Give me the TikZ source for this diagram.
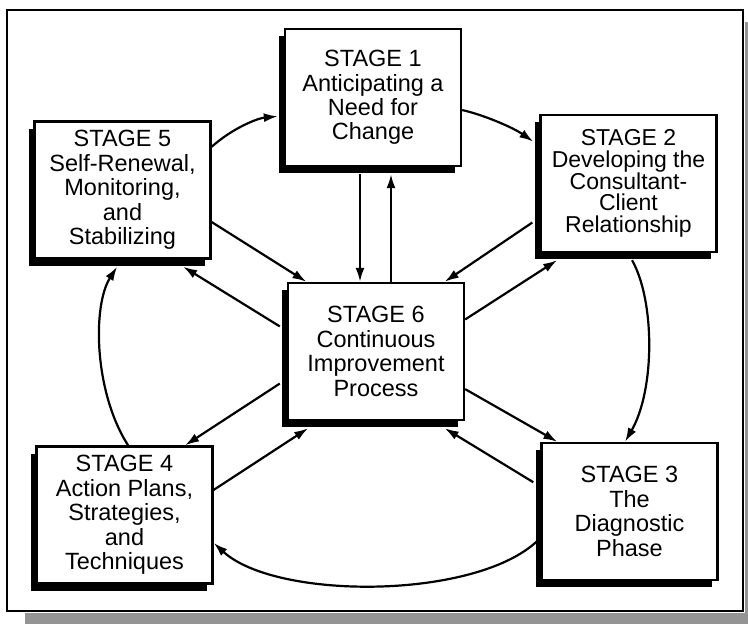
\documentclass[tikz,border=0pt]{standalone}
\usepackage{fontspec}
\setmainfont{Liberation Sans}
\usetikzlibrary{arrows.meta,calc,shadows}
\newcommand\stagefont{\fontsize{23.5}{24.4}\selectfont}
\newcommand\stagefonttight{\fontsize{23}{21.8}\selectfont}
\tikzset{
  stagebox/.style={draw, line width=2.4pt, fill=white,
    minimum width=176pt, minimum height=137pt, inner sep=0pt,
    align=center, font=\stagefont,
    drop shadow={shadow xshift=-6pt, shadow yshift=-7pt, opacity=1, fill=black}},
  arr/.style={line width=2.2pt, -{Latex[length=14pt,width=9pt]}},
  frameline/.style={line width=1.6pt},
  backshade/.style={fill=black!42}
}
\begin{document}
\begin{tikzpicture}[x=1pt,y=-1pt]
\useasboundingbox (0,0) rectangle (748,624);
% page frame with its grey shade
\fill[backshade] (25,613) rectangle (748,624);
\fill[backshade] (745,22) rectangle (748,613);
\draw[frameline] (7,10) rectangle (743,611);

% the six stages
\node[stagebox] (s1) at (373,97.5) {STAGE 1\\Anticipating a\\Need for\\Change};
\node[stagebox, font=\stagefonttight] (s2) at (628.5,183.5) {STAGE 2\\Developing the\\Consultant-\\Client\\Relationship};
\node[stagebox] (s3) at (629.5,511.5) {STAGE 3\\The\\Diagnostic\\Phase};
\node[stagebox] (s4) at (124.5,515) {STAGE 4\\Action Plans,\\Strategies,\\and\\Techniques};
\node[stagebox] (s5) at (122.5,190) {STAGE 5\\Self-Renewal,\\Monitoring,\\and\\Stabilizing};
\node[stagebox] (s6) at (376,351.5) {STAGE 6\\Continuous\\Improvement\\Process};

% outer cycle 1 -> 2 -> 3 -> 4 -> 5 -> 1
\coordinate (a1) at ($(s5.north east)!0.19!(s5.south east)$);
\coordinate (b1) at ($(s1.north west)!0.635!(s1.south west)+(-6,0)$);
\draw[arr] (a1) .. controls ($(a1)+(20,-18)$) and ($(b1)+(-21,2)$) .. (b1);

\coordinate (a2) at ($(s1.north east)!0.59!(s1.south east)$);
\coordinate (b2) at ($(s2.north west)!0.2!(s2.south west)+(-6,0)$);
\draw[arr] (a2) .. controls ($(a2)+(22,5)$) and ($(b2)+(-20,-14)$) .. (b2);

\coordinate (a3) at ($(s2.south west)!0.52!(s2.south east)+(0,7)$);
\coordinate (b3) at ($(s3.north west)!0.475!(s3.north east)$);
\draw[arr] (a3) .. controls ($(a3)+(23,41)$) and ($(b3)+(30,-52)$) .. (b3);

\coordinate (a4) at ($(s3.north west)!0.69!(s3.south west)$);
\coordinate (b4) at ($(s4.north east)!0.70!(s4.south east)$);
\draw[arr] (a4) .. controls ($(a4)+(-59,62)$) and ($(b4)+(63,58)$) .. (b4);

\coordinate (a5) at ($(s4.north west)!0.52!(s4.north east)$);
\coordinate (b5) at ($(s5.south west)!0.47!(s5.south east)+(0,7)$);
\draw[arr] (a5) .. controls ($(a5)+(-34,-53)$) and ($(b5)+(-25,39)$) .. (b5);

% spokes between stage 6 and the others
\coordinate (d1) at ($(s1.south)+(-13,7)$);
\draw[arr] (d1) -- (d1 |- s6.north);
\coordinate (u1) at ($(s6.north)+(15,0)$);
\draw[arr] (u1) -- ($(u1 |- s1.south)+(0,7)$);

\draw[arr] ($(s5.north east)!0.73!(s5.south east)$) -- ($(s6.north west)!0.11!(s6.north east)$);
\draw[arr] ($(s6.north west)!0.32!(s6.south west)+(-7,0)$) -- ($(s5.south west)!0.84!(s5.south east)+(0,7)$);

\draw[arr] ($(s2.north west)!0.78!(s2.south west)+(-7,0)$) -- ($(s6.north west)!0.885!(s6.north east)$);
\draw[arr] ($(s6.north east)!0.27!(s6.south east)$) -- ($(s2.south west)!0.10!(s2.south east)+(0,7)$);

\draw[arr] ($(s6.north east)!0.77!(s6.south east)$) -- ($(s3.north west)!0.096!(s3.north east)$);
\draw[arr] ($(s3.north west)!0.29!(s3.south west)+(-7,0)$) -- ($(s6.south west)!0.885!(s6.south east)+(0,7)$);

\draw[arr] ($(s6.north west)!0.73!(s6.south west)+(-7,0)$) -- ($(s4.north west)!0.84!(s4.north east)$);
\draw[arr] ($(s4.north east)!0.32!(s4.south east)$) -- ($(s6.south west)!0.12!(s6.south east)+(0,7)$);
\end{tikzpicture}
\end{document}
